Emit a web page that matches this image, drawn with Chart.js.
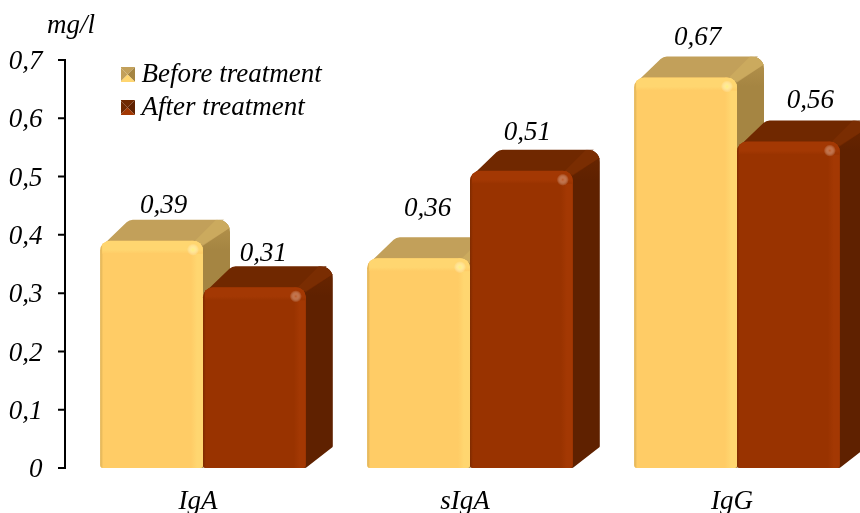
<!DOCTYPE html>
<html>
<head>
<meta charset="utf-8">
<title>Immunoglobulins</title>
<script src="https://cdn.jsdelivr.net/npm/chart.js@4"></script>
<style>
    html, body { margin: 0; padding: 0; background: #fff; overflow: hidden; }
    #wrap { width: 860px; height: 513px; overflow: hidden; }
</style>
</head>
<body>
<!-- the last block runs off the right edge, so the canvas is wider than its frame -->
<div id="wrap"><canvas id="mycanvas" width="880" height="513"></canvas></div>
<script>
var categories = ['IgA', 'sIgA', 'IgG'];
var beforeValues = [0.39, 0.36, 0.67];
var afterValues = [0.31, 0.51, 0.56];
var seriesNames = ['Before treatment', 'After treatment'];
var unitLabel = 'mg/l';

// hand placed value labels, [dx, dy] from the top centre of the bar
var beforeNudge = [[12, -35], [9, -49], [12, -40]];
var afterNudge = [[9, -33], [6, -38], [22, -41]];

var serifItalic = 'italic 27px "Liberation Serif", serif';
var depthX = 27, depthY = 21;

var skins = [
    { front: '#ffcc66', bevel: '#ffd670', glint: '#fff07a', edge: '#d8ae56', top: '#c2a05a', topBevel: '#cbaa5e', side: '#a58542', sideBevel: '#b5934c' },
    { front: '#993300', bevel: '#a33803', glint: '#bc5a28', edge: '#7f2b00', top: '#702800', topBevel: '#7a2d02', side: '#5f2100', sideBevel: '#6a2600' }
];

function roundedPoly(ctx, pts, radii) {
    ctx.beginPath();
    var n = pts.length;
    ctx.moveTo((pts[n - 1][0] + pts[0][0]) / 2, (pts[n - 1][1] + pts[0][1]) / 2);
    for (var i = 0; i < n; i++) {
        var next = pts[(i + 1) % n];
        ctx.arcTo(pts[i][0], pts[i][1], next[0], next[1], radii[i]);
    }
    ctx.closePath();
}

function hGrad(ctx, x0, x1, stops) {
    var g = ctx.createLinearGradient(x0, 0, x1, 0);
    stops.forEach(function (s) { g.addColorStop(s[0], s[1]); });
    return g;
}

function vGrad(ctx, y0, y1, stops) {
    var g = ctx.createLinearGradient(0, y0, 0, y1);
    stops.forEach(function (s) { g.addColorStop(s[0], s[1]); });
    return g;
}

function drawBlock(ctx, bar, skin) {
    var x = bar.x - bar.width / 2, w = bar.width, top = bar.y, base = bar.base;
    var r = x + w;

    // side face, extruded to the upper right
    roundedPoly(ctx, [[r - 6, top], [r + depthX - 6, top - depthY], [r + depthX, top - depthY], [r + depthX, base - depthY], [r, base], [r - 6, base]], [0, 0, 12, 2, 2, 0]);
    ctx.fillStyle = vGrad(ctx, top - depthY, top - depthY + 30, [[0, skin.sideBevel], [1, skin.side]]);
    ctx.fill();

    // top face
    roundedPoly(ctx, [[x + 2, top + 5], [x + depthX + 2, top - depthY], [r + depthX, top - depthY], [r + depthX, top - depthY + 8], [r, top + 5]], [0, 9, 12, 0, 0]);
    ctx.fillStyle = skin.top;
    ctx.fill();
    ctx.save();
    ctx.clip();
    ctx.beginPath();
    ctx.moveTo(r - 10, top + 2);
    ctx.lineTo(r + depthX - 14, top - depthY);
    ctx.lineTo(r + depthX, top - depthY);
    ctx.lineTo(r + depthX, top - depthY + 8);
    ctx.lineTo(r, top + 4);
    ctx.closePath();
    ctx.fillStyle = skin.topBevel;
    ctx.fill();
    ctx.restore();

    // front face with its soft bevel along the edges
    roundedPoly(ctx, [[x, top], [r, top], [r, base], [x, base]], [10, 10, 3, 3]);
    ctx.fillStyle = skin.front;
    ctx.fill();
    ctx.save();
    ctx.clip();
    ctx.fillStyle = hGrad(ctx, x, x + 3, [[0, skin.edge], [1, skin.front]]);
    ctx.fillRect(x, top, 3, base - top);
    ctx.fillStyle = hGrad(ctx, r - 12, r, [[0, skin.front], [0.5, skin.bevel], [1, skin.bevel]]);
    ctx.fillRect(r - 12, top, 12, base - top);
    ctx.fillStyle = vGrad(ctx, top, top + 13, [[0, skin.bevel], [0.7, skin.bevel], [1, skin.front]]);
    ctx.fillRect(x + 2, top, w - 2, 13);
    var spot = ctx.createRadialGradient(r - 10, top + 9, 0, r - 10, top + 9, 6);
    spot.addColorStop(0, skin.glint);
    spot.addColorStop(1, 'rgba(255,255,255,0)');
    ctx.fillStyle = spot;
    ctx.fillRect(r - 17, top + 2, 14, 14);
    ctx.restore();
}

function legendSwatch(skin) {
    var c = document.createElement('canvas');
    c.width = 15;
    c.height = 15;
    var g = c.getContext('2d');
    var faces = [
        [skin.top, [0, 0], [15, 0]],
        [skin.side, [15, 0], [15, 15]],
        [skin.bevel, [15, 15], [0, 15]],
        [skin.top, [0, 15], [0, 0]]
    ];
    faces.forEach(function (f) {
        g.fillStyle = f[0];
        g.beginPath();
        g.moveTo(f[1][0], f[1][1]);
        g.lineTo(f[2][0], f[2][1]);
        g.lineTo(7.5, 7.5);
        g.closePath();
        g.fill();
    });
    return c;
}

var swatches = [legendSwatch(skins[0]), legendSwatch(skins[1])];

var blocks3d = {
    id: 'blocks3d',
    afterLayout: function (chart) {
        // legend sits inside the plot, near the upper left
        chart.legend.left = 121;
        chart.legend.top = 55;
    },
    // the blocks overlap, so the first series has to go down first
    beforeDatasetsDraw: function (chart) {
        chart.data.datasets.forEach(function (ds, d) {
            chart.getDatasetMeta(d).data.forEach(function (bar) {
                drawBlock(chart.ctx, bar.getProps(['x', 'y', 'base', 'width'], true), skins[d]);
            });
        });
    },
    beforeDatasetDraw: function () {
        return false;
    },
    afterDatasetsDraw: function (chart) {
        var ctx = chart.ctx;
        var nudges = [beforeNudge, afterNudge];
        ctx.save();
        ctx.font = serifItalic;
        ctx.fillStyle = '#000';
        ctx.textAlign = 'center';
        ctx.textBaseline = 'middle';
        chart.data.datasets.forEach(function (ds, d) {
            chart.getDatasetMeta(d).data.forEach(function (bar, i) {
                var text = ds.data[i].toFixed(2).replace('.', ',');
                ctx.fillText(text, bar.x + nudges[d][i][0], bar.y + nudges[d][i][1]);
            });
        });
        ctx.restore();
    },
    afterDraw: function (chart) {
        var ctx = chart.ctx;
        var y = chart.scales.y;
        var axisX = chart.chartArea.left - 4.5;
        ctx.save();
        // value axis stands a little left of the plot
        ctx.strokeStyle = '#000';
        ctx.lineWidth = 2;
        ctx.beginPath();
        ctx.moveTo(axisX, y.getPixelForValue(0.7) - 1);
        ctx.lineTo(axisX, y.getPixelForValue(0) + 1);
        y.ticks.forEach(function (t) {
            var py = y.getPixelForValue(t.value);
            ctx.moveTo(axisX - 7, py);
            ctx.lineTo(axisX, py);
        });
        ctx.stroke();
        ctx.font = serifItalic;
        ctx.fillStyle = '#000';
        ctx.textAlign = 'left';
        ctx.textBaseline = 'middle';
        ctx.fillText(unitLabel, 47, 26);
        ctx.restore();
    }
};

var chartdata = {
    labels: categories,
    datasets: [
        { label: seriesNames[0], data: beforeValues, backgroundColor: skins[0].front },
        { label: seriesNames[1], data: afterValues, backgroundColor: skins[1].front }
    ]
};

var ctx = document.getElementById('mycanvas');

var barGraph = new Chart(ctx, {
    type: 'bar',
    data: chartdata,
    plugins: [blocks3d],
    options: {
        responsive: false,
        animation: false,
        layout: { padding: { top: 60, right: 9.5, bottom: 0, left: 0 } },
        datasets: { bar: { categoryPercentage: 0.77, barPercentage: 1 } },
        scales: {
            x: {
                grid: { display: false },
                border: { display: false },
                afterFit: function (scale) { scale.height = 45; },
                ticks: {
                    color: '#000',
                    maxRotation: 0,
                    padding: 10,
                    labelOffset: -5,
                    font: { family: '"Liberation Serif", serif', size: 27, style: 'italic' }
                }
            },
            y: {
                min: 0,
                max: 0.7,
                grid: { display: false },
                border: { display: false },
                afterFit: function (scale) { scale.width = 69.5; },
                ticks: {
                    stepSize: 0.1,
                    color: '#000',
                    padding: 19,
                    labelOffset: 2,
                    font: { family: '"Liberation Serif", serif', size: 27, style: 'italic' },
                    callback: function (value) {
                        return value === 0 ? '0' : value.toFixed(1).replace('.', ',');
                    }
                }
            }
        },
        plugins: {
            tooltip: { enabled: false },
            legend: {
                position: 'chartArea',
                align: 'start',
                labels: {
                    boxWidth: 1,
                    padding: 6,
                    color: '#000',
                    usePointStyle: true,
                    font: { family: '"Liberation Serif", serif', size: 27, style: 'italic' },
                    generateLabels: function () {
                        return seriesNames.map(function (name, i) {
                            return { text: name, pointStyle: swatches[i], fontColor: '#000', datasetIndex: i, lineWidth: 0 };
                        });
                    }
                }
            }
        }
    }
});
</script>
</body>
</html>
